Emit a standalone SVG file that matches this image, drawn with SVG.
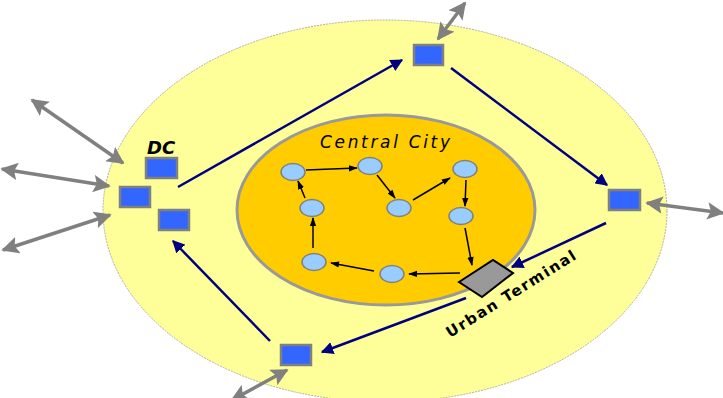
<svg xmlns="http://www.w3.org/2000/svg" width="723" height="398" viewBox="0 0 723 398">
<style>
.sq{fill:#3366FF;stroke:#808080;stroke-width:2.5}
.cc{fill:#99CCFF;stroke:#808080;stroke-width:1.5}
.nv{stroke:#000080;stroke-width:2.5;fill:none;marker-end:url(#an)}
.gr{stroke:#808080;stroke-width:3.5;fill:none;marker-end:url(#ag);marker-start:url(#ag)}
.bk{stroke:#000;stroke-width:1.5;fill:none;marker-end:url(#ab)}
</style>
<defs>
<marker id="an" viewBox="0 0 10 10" refX="9" refY="5" markerWidth="5" markerHeight="5" orient="auto"><path d="M0,0L10,5L0,10z" fill="#000080"/></marker>
<marker id="ag" viewBox="0 0 10 10" refX="9" refY="5" markerWidth="5" markerHeight="5" orient="auto-start-reverse"><path d="M0,0L10,5L0,10L2,5z" fill="#808080"/></marker>
<marker id="ab" viewBox="0 0 10 10" refX="9" refY="5" markerWidth="6" markerHeight="6" orient="auto"><path d="M0,1.5L10,5L0,8.5z" fill="#000"/></marker>
</defs>
<g id="outer"><ellipse cx="385" cy="211" rx="282" ry="191" fill="#FFFF99" stroke="#B0B0A0" stroke-width="1" stroke-dasharray="2 1"/></g>
<g id="central-city"><ellipse cx="386" cy="210" rx="149" ry="95" fill="#FFCC00" stroke="#999999" stroke-width="3"/>
<text x="320" y="148" font-family="DejaVu Sans, sans-serif" font-style="italic" font-size="17" textLength="130">Central City</text></g>
<g id="connectors">
<line class="nv" x1="178" y1="187" x2="402" y2="60"/>
<line class="nv" x1="451" y1="68" x2="607" y2="185"/>
<line class="nv" x1="606" y1="223" x2="512" y2="267"/>
<line class="nv" x1="466" y1="298" x2="322" y2="352"/>
<line class="nv" x1="270" y1="341" x2="173" y2="241"/>
<line class="gr" x1="438" y1="39" x2="465" y2="3"/>
<line class="gr" x1="123" y1="163" x2="32" y2="100"/>
<line class="gr" x1="109" y1="186" x2="2" y2="169"/>
<line class="gr" x1="110" y1="215" x2="3" y2="250"/>
<line class="gr" x1="647" y1="203" x2="723" y2="213"/>
<line class="gr" x1="287" y1="370" x2="232" y2="400"/>
<line class="bk" x1="306" y1="170" x2="357" y2="168"/>
<line class="bk" x1="377" y1="175" x2="395" y2="198"/>
<line class="bk" x1="413" y1="200" x2="450" y2="178"/>
<line class="bk" x1="466" y1="180" x2="465" y2="206"/>
<line class="bk" x1="465" y1="228" x2="472" y2="265"/>
<line class="bk" x1="460" y1="273" x2="409" y2="274"/>
<line class="bk" x1="374" y1="271" x2="331" y2="263"/>
<line class="bk" x1="313" y1="248" x2="313" y2="218"/>
<line class="bk" x1="305" y1="198" x2="298" y2="181"/>
</g>
<g id="dc"><rect class="sq" x="146" y="158" width="31" height="20"/><rect class="sq" x="120" y="187" width="30" height="20"/><rect class="sq" x="159" y="210" width="30" height="20"/>
<text x="147" y="154" font-family="DejaVu Sans, sans-serif" font-weight="bold" font-style="italic" font-size="18">DC</text></g>
<g id="n-top"><rect class="sq" x="414" y="45" width="29" height="20"/></g>
<g id="n-right"><rect class="sq" x="609" y="190" width="31" height="20"/></g>
<g id="n-bottom"><rect class="sq" x="281" y="345" width="30" height="20"/></g>
<g id="city-nodes">
<ellipse class="cc" cx="293" cy="172" rx="12" ry="8.5"/>
<ellipse class="cc" cx="370" cy="166" rx="12" ry="8.5"/>
<ellipse class="cc" cx="399" cy="208" rx="12" ry="8.5"/>
<ellipse class="cc" cx="465" cy="169" rx="12" ry="8.5"/>
<ellipse class="cc" cx="461" cy="216" rx="12" ry="8.5"/>
<ellipse class="cc" cx="312" cy="208" rx="12" ry="8.5"/>
<ellipse class="cc" cx="314" cy="262" rx="12" ry="8.5"/>
<ellipse class="cc" cx="392" cy="274" rx="12" ry="8.5"/>
</g>
<g id="urban-terminal"><polygon points="459,282 493,260 513,273 482,297" fill="#999999" stroke="#000" stroke-width="2"/>
<text x="450" y="338" transform="rotate(-32 450 338)" font-family="DejaVu Sans, sans-serif" font-weight="bold" font-size="15" textLength="150">Urban Terminal</text></g>
</svg>
